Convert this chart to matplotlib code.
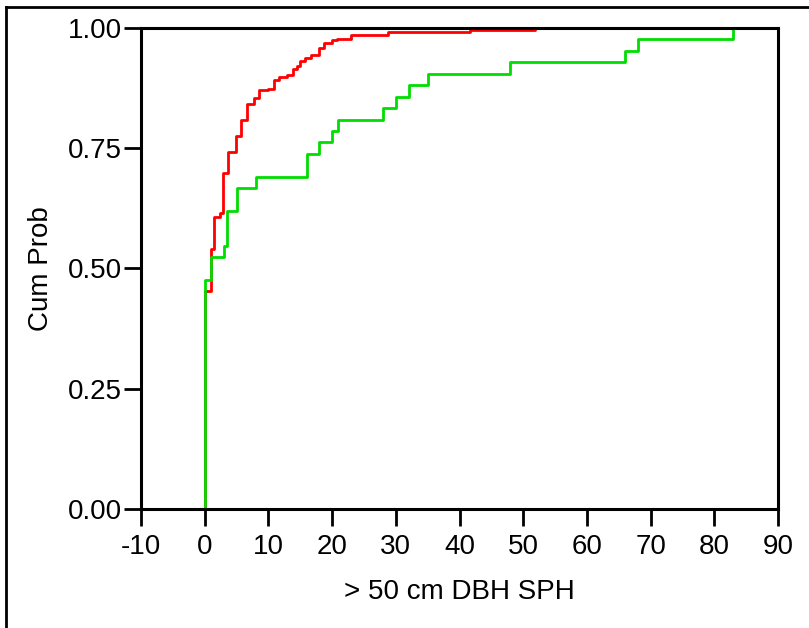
import matplotlib
matplotlib.use("Agg")
import matplotlib.pyplot as plt
from matplotlib.lines import Line2D

plt.rcParams['font.family'] = ['Liberation Sans', 'DejaVu Sans']
plt.rcParams['axes.unicode_minus'] = False

# step positions (SPH) and cumulative probability after each step
red_x = [0, 1, 1.5, 2.4, 2.8, 3.6, 4.9, 5.7, 6.6, 7.8, 8.6, 9.9, 10.8, 11.6,
         12.9, 13.8, 14.5, 15.0, 15.8, 16.7, 18.0, 18.8, 20.0, 20.8, 22.9,
         28.8, 41.6, 51.8]
red_p = [0.454, 0.541, 0.608, 0.615, 0.699, 0.742, 0.775, 0.808, 0.842, 0.854,
         0.871, 0.874, 0.892, 0.897, 0.903, 0.914, 0.920, 0.931, 0.937, 0.943,
         0.959, 0.969, 0.975, 0.978, 0.985, 0.991, 0.995, 1.0]

green_x = [0, 1, 3, 3.5, 5, 8, 16, 18, 20, 21, 28, 30, 32, 35, 48, 66, 68, 83]
green_n = [20, 22, 23, 26, 28, 29, 31, 32, 33, 34, 35, 36, 37, 38, 39, 40, 41, 42]
green_p = [n / 42 for n in green_n]

x_ticks = list(range(-10, 91, 10))
y_ticks = [0.0, 0.25, 0.5, 0.75, 1.0]

fig = plt.figure(figsize=(8.09, 6.28), dpi=100)
ax = fig.add_axes([0.1743, 0.1895, 0.7874, 0.766])

# ECDF curves: start at zero at the first value
ax.step([red_x[0]] + red_x, [0] + red_p, where='post', color='#ff0000', lw=2.0)
ax.step([green_x[0]] + green_x, [0] + green_p, where='post', color='#00dd00', lw=2.0)

ax.set_xlim(-10, 90)
ax.set_ylim(0, 1)
ax.set_xticks(x_ticks)
ax.set_yticks(y_ticks)
ax.set_yticklabels(['%.2f' % v for v in y_ticks])
ax.tick_params(direction='out', length=12, width=2, labelsize=20)
ax.tick_params(axis='x', pad=6)
ax.tick_params(axis='y', pad=2)
for s in ax.spines.values():
    s.set_linewidth(2.2)

ax.set_xlabel('> 50 cm DBH SPH', fontsize=20, labelpad=14)
ax.set_ylabel('Cum Prob', fontsize=20, labelpad=10)

# outer frame around the figure (top and left edges)
fig.add_artist(Line2D([0.0074, 1.0], [0.989, 0.989], color='black', lw=2))
fig.add_artist(Line2D([0.0074, 0.0074], [0.0, 0.989], color='black', lw=2))

fig.savefig('out.png', dpi=100)
